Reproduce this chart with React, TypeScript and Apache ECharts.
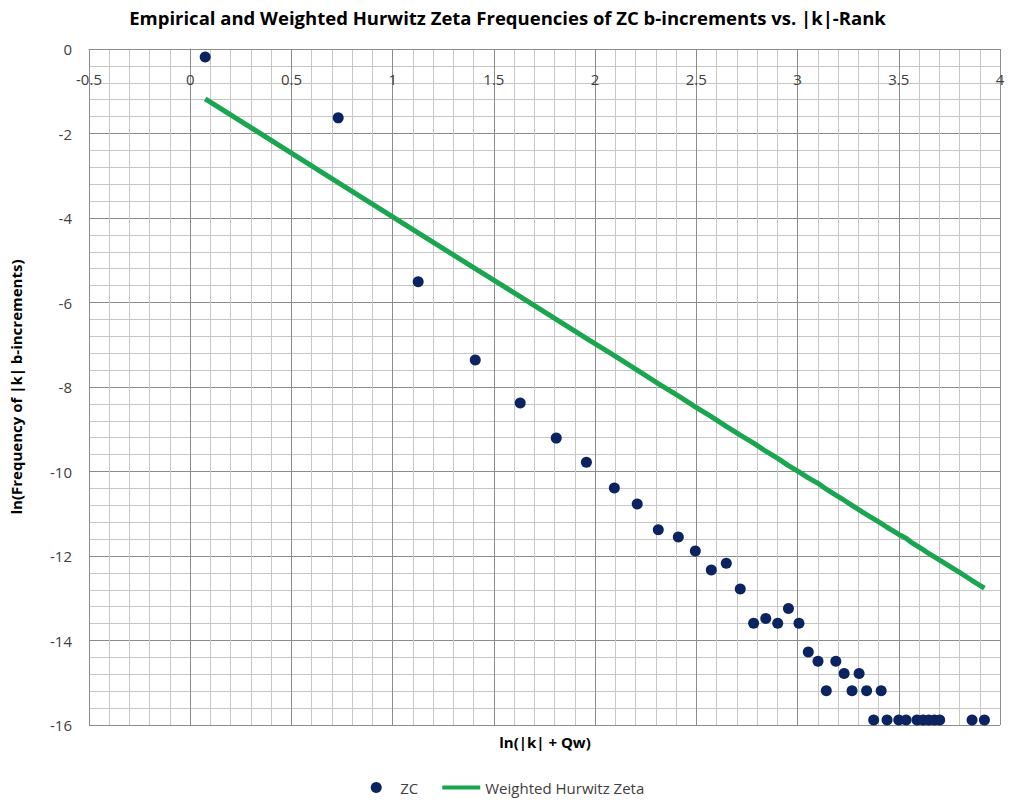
import React, { useEffect, useRef } from "react";
import * as echarts from "echarts";

const titleText = "Empirical and Weighted Hurwitz Zeta Frequencies of ZC b-increments vs. |k|-Rank";
const xAxisTitle = "ln(|k| + Qw)";
const yAxisTitle = "ln(Frequency of |k| b-increments)";

const zcX = [
  0.074, 0.731, 1.126, 1.408, 1.63, 1.808, 1.957, 2.095, 2.208, 2.312, 2.411, 2.495, 2.574, 2.648, 2.717,
  2.783, 2.843, 2.902, 2.955, 3.007, 3.053, 3.101, 3.142, 3.189, 3.23, 3.269, 3.304, 3.341, 3.376, 3.413,
  3.442, 3.5, 3.536, 3.59, 3.62, 3.648, 3.676, 3.702, 3.862, 3.923,
];
const zcY = [
  -0.19, -1.63, -5.51, -7.36, -8.38, -9.21, -9.78, -10.39, -10.77, -11.38, -11.55, -11.88, -12.33, -12.17, -12.78,
  -13.59, -13.48, -13.59, -13.24, -13.59, -14.27, -14.49, -15.19, -14.49, -14.78, -15.19, -14.78, -15.19, -15.88, -15.19,
  -15.88, -15.88, -15.88, -15.88, -15.88, -15.88, -15.88, -15.88, -15.88, -15.88,
];

const hzX = [
  0.074, 0.731, 1.126, 1.408, 1.63, 1.808, 1.957, 2.095, 2.208, 2.312, 2.411, 2.495, 2.574, 2.648, 2.717,
  2.783, 2.843, 2.902, 2.955, 3.007, 3.053, 3.101, 3.142, 3.189, 3.23, 3.269, 3.304, 3.341, 3.376, 3.413,
  3.442, 3.47, 3.5, 3.536, 3.56, 3.59, 3.62, 3.648, 3.676, 3.702, 3.75, 3.8, 3.862, 3.923,
];
const hzY = [
  -1.18, -3.16, -4.35, -5.2, -5.86, -6.4, -6.85, -7.26, -7.6, -7.92, -8.21, -8.47, -8.7, -8.93, -9.14,
  -9.33, -9.52, -9.69, -9.86, -10.01, -10.15, -10.28, -10.42, -10.56, -10.68, -10.8, -10.91, -11.02, -11.12, -11.23,
  -11.32, -11.4, -11.49, -11.58, -11.67, -11.76, -11.85, -11.94, -12.02, -12.1, -12.24, -12.39, -12.58, -12.76,
];

const FONT = "'Open Sans', Lato, sans-serif";

export default function App() {
  const ref = useRef<HTMLDivElement>(null);
  useEffect(() => {
    if (!ref.current) return;
    document.body.style.margin = "0";
    const chart = echarts.init(ref.current, undefined, { renderer: "svg" });
    const majorColor = "#8c8c8c";
    const minorColor = "#c6c6c6";
    const labelColor = "#404040";
    const navy = "#0b2360";
    const green = "#1aa650";
    chart.setOption({
      animation: false,
      backgroundColor: "#ffffff",
      textStyle: { fontFamily: FONT },
      title: {
        text: titleText,
        left: "center",
        top: 7,
        padding: 0,
        textStyle: { fontFamily: FONT, fontSize: 18.5, fontWeight: "bold", color: "#000000", lineHeight: 20 },
      },
      grid: { left: 89, top: 49, width: 911, height: 676 },
      xAxis: {
        type: "value",
        min: -0.5,
        max: 4,
        interval: 0.5,
        position: "top",
        axisLine: { show: true, onZero: false, lineStyle: { color: majorColor, width: 1 } },
        axisTick: { show: false },
        axisLabel: { inside: true, margin: 22, fontSize: 15, color: labelColor, fontFamily: FONT },
        splitLine: { show: true, lineStyle: { color: majorColor, width: 1 } },
        minorTick: { show: false, splitNumber: 5 },
        minorSplitLine: { show: true, lineStyle: { color: minorColor, width: 1 } },
      },
      yAxis: {
        type: "value",
        min: -16,
        max: 0,
        interval: 2,
        name: yAxisTitle,
        nameLocation: "middle",
        nameRotate: 90,
        nameGap: 66,
        nameTextStyle: { fontFamily: FONT, fontSize: 15, fontWeight: "bold", color: "#000000" },
        axisLine: { show: true, lineStyle: { color: majorColor, width: 1 } },
        axisTick: { show: true, length: 6, lineStyle: { color: majorColor } },
        axisLabel: { margin: 17, fontSize: 15, color: labelColor, fontFamily: FONT },
        splitLine: { show: true, lineStyle: { color: majorColor, width: 1 } },
        minorTick: { show: false, splitNumber: 5 },
        minorSplitLine: { show: true, lineStyle: { color: minorColor, width: 1 } },
      },
      graphic: [
        {
          type: "text",
          x: 545,
          y: 742,
          style: {
            text: xAxisTitle,
            fontFamily: FONT,
            fontSize: 15,
            fontWeight: "bold",
            fill: "#000000",
            textAlign: "center",
            textVerticalAlign: "middle",
          },
        },
      ],
      legend: {
        top: 780,
        left: "center",
        itemWidth: 38,
        itemHeight: 11,
        itemGap: 24,
        padding: 0,
        textStyle: { fontFamily: FONT, fontSize: 15, color: labelColor },
        data: [
          { name: "ZC", icon: "circle", itemStyle: { color: navy, opacity: 1 } },
          {
            name: "Weighted Hurwitz Zeta",
            icon: "path://M0,0 L38,0 L38,4 L0,4 Z",
            itemStyle: { color: green, opacity: 1 },
          },
        ],
      },
      series: [
        {
          name: "ZC",
          type: "scatter",
          data: zcX.map((x, i) => [x, zcY[i]]),
          symbol: "circle",
          symbolSize: 11,
          itemStyle: { color: navy, opacity: 1 },
          z: 3,
        },
        {
          name: "Weighted Hurwitz Zeta",
          type: "line",
          data: hzX.map((x, i) => [x, hzY[i]]),
          symbol: "none",
          showSymbol: false,
          lineStyle: { color: green, width: 5 },
          itemStyle: { color: green },
          z: 2,
        },
      ],
    });
    return () => chart.dispose();
  }, []);
  return <div ref={ref} style={{ width: 1015, height: 803 }} />;
}
